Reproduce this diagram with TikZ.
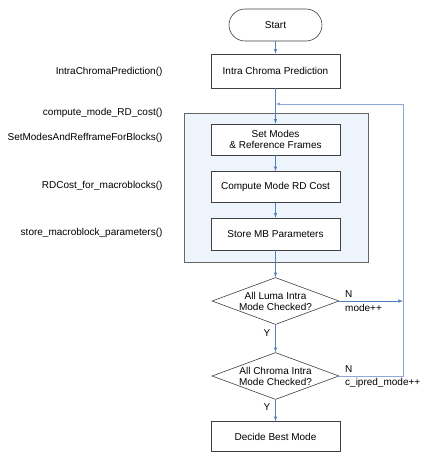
\documentclass[tikz,border=0pt]{standalone}
\usepackage{fontspec}
\setmainfont{Liberation Sans}
\usetikzlibrary{arrows,shapes.geometric}
\definecolor{flowblue}{HTML}{4F81BD}
\definecolor{loopblue}{HTML}{8DA9D4}
\definecolor{framefill}{HTML}{EEF4FB}
\definecolor{boxline}{HTML}{404040}
\tikzset{arrowout/.style={->,>=latex,semithick,flowblue},loopline/.style={->,>=latex,semithick,loopblue},box/.style={rectangle, minimum width=129pt, minimum height=31pt,text centered, draw=boxline, fill=white, semithick},term/.style={rectangle, rounded corners=16pt, minimum width=93pt, minimum height=32pt, draw=boxline, fill=white, semithick},decision/.style={diamond, aspect=2.7, inner sep=0pt, minimum width=127pt, minimum height=47pt, draw=boxline, fill=white, semithick},func/.style={anchor=east},tag/.style={anchor=west,inner sep=1pt}}

\begin{document}
\begin{tikzpicture} [x=1pt,y=-1pt,align=center,font=\fontsize{10}{11}\selectfont]
\useasboundingbox (0,0) rectangle (440,452);

\node(frame) at (276,187.5) [rectangle, draw=boxline!80, fill=framefill, thick, minimum width=184pt, minimum height=149pt] {};

\node(start) at (275.5,25) [term] {Start};
\node(intra) at (275.5,71) [box, minimum height=34pt] {Intra Chroma Prediction};
\node(setm) at (275.5,139.5) [box] {Set Modes\\\& Reference Frames};
\node(rdc) at (275.5,187) [box] {Compute Mode RD Cost};
\node(store) at (275.5,234) [box, minimum height=32pt] {Store MB Parameters};
\node(luma) at (275.5,301) [decision] {All Luma Intra\\Mode Checked?};
\node(chroma) at (275.5,376) [decision] {All Chroma Intra\\Mode Checked?};
\node(best) at (275.5,436.5) [box, minimum height=30pt] {Decide Best Mode};

\node(f1) at (166,72) [func] {IntraChromaPrediction()};
\node(f2) at (166,113) [func] {compute\_mode\_RD\_cost()};
\node(f3) at (166,138) [func] {SetModesAndRefframeForBlocks()};
\node(f4) at (166,186) [func] {RDCost\_for\_macroblocks()};
\node(f5) at (166,233) [func] {store\_macroblock\_parameters()};

\node(n1) at (344,294) [tag] {N};
\node(inc1) at (344,308) [tag] {mode++};
\node(y1) at (267,333) {Y};
\node(n2) at (344,369) [tag] {N};
\node(inc2) at (344,383) [tag] {c\_ipred\_mode++};
\node(y2) at (267,407) {Y};

\coordinate(back) at (275.5,104);
\coordinate(up) at (403,104);
\coordinate(low) at (403,376);
\coordinate(mid) at (403,301);

\draw (start) edge[arrowout] (intra);
\draw (intra) edge[arrowout] (setm);
\draw (setm) edge[arrowout] (rdc);
\draw (rdc) edge[arrowout] (store);
\draw (store) edge[arrowout] (luma);
\draw (luma) edge[arrowout] (chroma);
\draw (chroma) edge[arrowout] (best);
\draw (luma.east) edge[arrowout] (mid);
\draw[loopline] (chroma.east) -- (low) -- (up) -- (back);

\end{tikzpicture}
\end{document}
